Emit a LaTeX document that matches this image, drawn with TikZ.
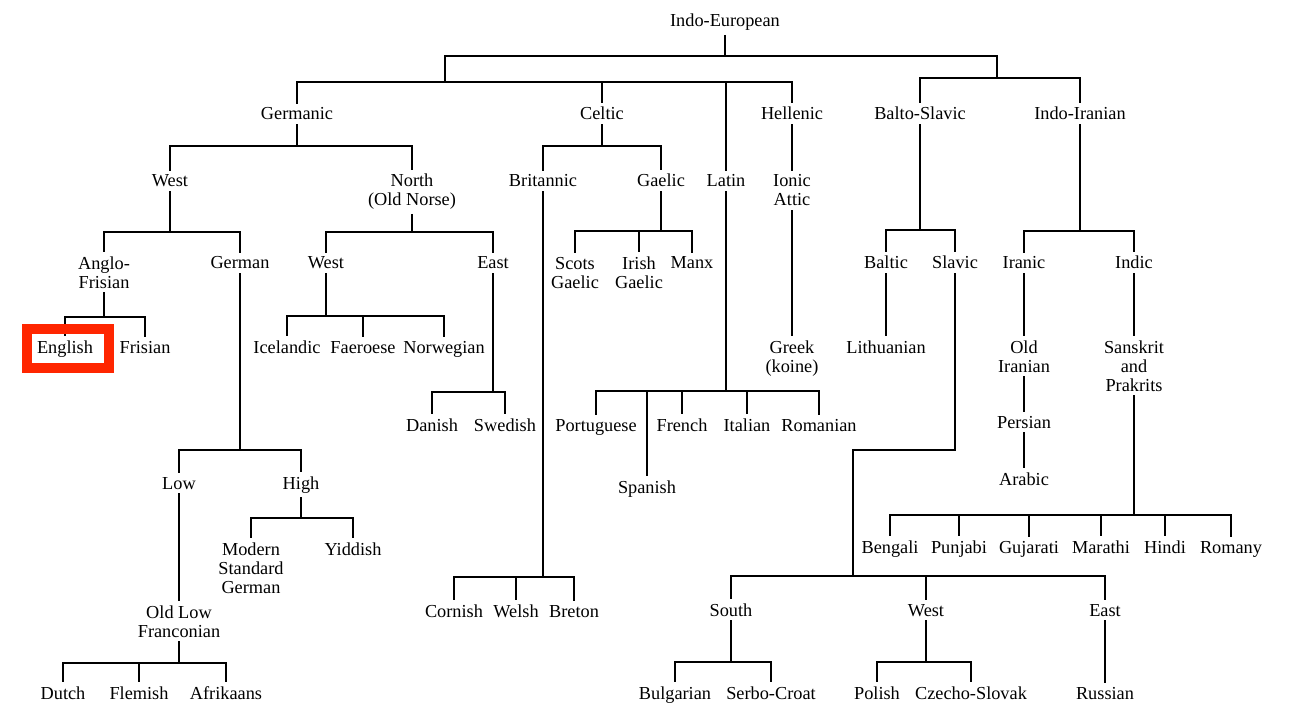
\documentclass[tikz,border=0pt]{standalone}
\usepackage{fontspec}
\setmainfont{Liberation Serif}
\definecolor{hilite}{RGB}{255,38,0}
\tikzset{
  lang/.style={font=\fontsize{18.3}{19}\selectfont, align=center, anchor=base},
  redbox/.style={draw=hilite, line width=10pt}
}
\begin{document}
\begin{tikzpicture}[x=1pt,y=-1pt,line width=1.5pt,every node/.style={lang}]
      \useasboundingbox (0,0) rectangle (1296,714);
      % Families
      \node (ie) at (725,27) {Indo-European};
      \node (ger) at (297,120) {Germanic};
      \node (cel) at (602,120) {Celtic};
      \node (hel) at (792,120) {Hellenic};
      \node (bs) at (920,120) {Balto-Slavic};
      \node (ii) at (1080,120) {Indo-Iranian};
      % Branches
      \node (gw) at (170,187) {West};
      \node (gn) at (412,206) {North\\(Old Norse)};
      \node (bri) at (543,187) {Britannic};
      \node (gae) at (661,187) {Gaelic};
      \node (lat) at (726,187) {Latin};
      \node (ion) at (792,206) {Ionic\\Attic};
      \node (af) at (104,288) {Anglo-\\Frisian};
      \node (gm) at (240,269) {German};
      \node (nw) at (326,269) {West};
      \node (ne) at (493,269) {East};
      \node (sco) at (575,288) {Scots\\Gaelic};
      \node (iri) at (639,288) {Irish\\Gaelic};
      \node (manx) at (692,269) {Manx};
      \node (bal) at (886,269) {Baltic};
      \node (sla) at (955,269) {Slavic};
      \node (ira) at (1024,269) {Iranic};
      \node (ind) at (1134,269) {Indic};
      % Languages
      \node (eng) at (65,353) {English};
      \node (fri) at (145,353) {Frisian};
      \node (ice) at (287,353) {Icelandic};
      \node (fae) at (363,353) {Faeroese};
      \node (nor) at (444,353) {Norwegian};
      \node (grk) at (792,372) {Greek\\(koine)};
      \node (lit) at (886,353) {Lithuanian};
      \node (oir) at (1024,372) {Old\\Iranian};
      \node (skt) at (1134,391) {Sanskrit\\and\\Prakrits};
      \node (dan) at (432,431) {Danish};
      \node (swe) at (505,431) {Swedish};
      \node (por) at (596,431) {Portuguese};
      \node (fre) at (682,431) {French};
      \node (ita) at (747,431) {Italian};
      \node (rom) at (819,431) {Romanian};
      \node (per) at (1024,428) {Persian};
      \node (spa) at (647,493) {Spanish};
      \node (ara) at (1024,485) {Arabic};
      \node (low) at (179,489) {Low};
      \node (high) at (301,489) {High};
      \node (ben) at (890,553) {Bengali};
      \node (pun) at (959,553) {Punjabi};
      \node (guj) at (1029,553) {Gujarati};
      \node (mar) at (1101,553) {Marathi};
      \node (hin) at (1165,553) {Hindi};
      \node (rmy) at (1231,553) {Romany};
      \node (msg) at (251,593) {Modern\\Standard\\German};
      \node (yid) at (353,555) {Yiddish};
      \node (olf) at (179,637) {Old Low\\Franconian};
      \node (cor) at (454,617) {Cornish};
      \node (wel) at (516,617) {Welsh};
      \node (bre) at (574,617) {Breton};
      \node (ssou) at (731,616) {South};
      \node (swes) at (926,616) {West};
      \node (seas) at (1105,616) {East};
      \node (dut) at (63,699) {Dutch};
      \node (fle) at (139,699) {Flemish};
      \node (afr) at (226,699) {Afrikaans};
      \node (bul) at (675,699) {Bulgarian};
      \node (ser) at (771,699) {Serbo-Croat};
      \node (pol) at (877,699) {Polish};
      \node (cze) at (971,699) {Czecho-Slovak};
      \node (rus) at (1105,699) {Russian};
      % Indo-European
      \coordinate (ieJ) at (725,56);
      \coordinate (wJ) at (445,82);
      \coordinate (eJ) at (997,78);
      \draw (ie) -- (ieJ) -| (wJ);
      \draw (ieJ) -| (eJ);
      \draw (wJ) -| (ger);
      \draw (wJ) -| (cel);
      \draw (wJ) -| (lat);
      \draw (wJ) -| (hel);
      \draw (eJ) -| (bs);
      \draw (eJ) -| (ii);
      % Germanic
      \coordinate (gerJ) at (297,146);
      \draw (ger) -- (gerJ) -| (gw);
      \draw (gerJ) -| (gn);
      \coordinate (gwJ) at (170,232);
      \draw (gw) -- (gwJ) -| (af);
      \draw (gwJ) -| (gm);
      \coordinate (afJ) at (104,317);
      \draw (af) -- (afJ) -| (eng);
      \draw (afJ) -| (fri);
      \coordinate (gmJ) at (240,450);
      \draw (gm) -- (gmJ) -| (low);
      \draw (gmJ) -| (high);
      \draw (low) -- (olf);
      \coordinate (olfJ) at (179,663);
      \draw (olf) -- (olfJ) -| (dut);
      \draw (olfJ) -| (fle);
      \draw (olfJ) -| (afr);
      \coordinate (highJ) at (301,518);
      \draw (high) -- (highJ) -| (msg);
      \draw (highJ) -| (yid);
      \coordinate (gnJ) at (412,232);
      \draw (gn) -- (gnJ) -| (nw);
      \draw (gnJ) -| (ne);
      \coordinate (nwJ) at (326,316);
      \draw (nw) -- (nwJ) -| (ice);
      \draw (nwJ) -| (fae);
      \draw (nwJ) -| (nor);
      \coordinate (neJ) at (493,392);
      \draw (ne) -- (neJ) -| (dan);
      \draw (neJ) -| (swe);
      % Celtic
      \coordinate (celJ) at (602,146);
      \draw (cel) -- (celJ) -| (bri);
      \draw (celJ) -| (gae);
      \coordinate (briJ) at (543,577);
      \draw (bri) -- (briJ) -| (cor);
      \draw (briJ) -| (wel);
      \draw (briJ) -| (bre);
      \coordinate (gaeJ) at (661,231);
      \draw (gae) -- (gaeJ) -| (sco);
      \draw (gaeJ) -| (iri);
      \draw (gaeJ) -| (manx);
      % Latin
      \coordinate (latJ) at (726,391);
      \draw (lat) -- (latJ) -| (por);
      \draw (latJ) -| (spa);
      \draw (latJ) -| (fre);
      \draw (latJ) -| (ita);
      \draw (latJ) -| (rom);
      % Hellenic
      \draw (hel) -- (ion) -- (grk);
      % Balto-Slavic
      \coordinate (bsJ) at (920,230);
      \draw (bs) -- (bsJ) -| (bal);
      \draw (bsJ) -| (sla);
      \draw (bal) -- (lit);
      \coordinate (slaJ) at (853,450);
      \coordinate (slaK) at (853,576);
      \draw (sla) |- (slaJ) -- (slaK) -| (ssou);
      \draw (slaK) -| (swes);
      \draw (slaK) -| (seas);
      \coordinate (souJ) at (731,662);
      \draw (ssou) -- (souJ) -| (bul);
      \draw (souJ) -| (ser);
      \coordinate (wesJ) at (926,662);
      \draw (swes) -- (wesJ) -| (pol);
      \draw (wesJ) -| (cze);
      \draw (seas) -- (rus);
      % Indo-Iranian
      \coordinate (iiJ) at (1080,231);
      \draw (ii) -- (iiJ) -| (ira);
      \draw (iiJ) -| (ind);
      \draw (ira) -- (oir) -- (per) -- (ara);
      \draw (ind) -- (skt);
      \coordinate (sktJ) at (1134,515);
      \draw (skt) -- (sktJ) -| (ben);
      \draw (sktJ) -| (pun);
      \draw (sktJ) -| (guj);
      \draw (sktJ) -| (mar);
      \draw (sktJ) -| (hin);
      \draw (sktJ) -| (rmy);
      % Highlight
      \draw[redbox] (27,329) rectangle (109,368);
    \end{tikzpicture}
\end{document}
